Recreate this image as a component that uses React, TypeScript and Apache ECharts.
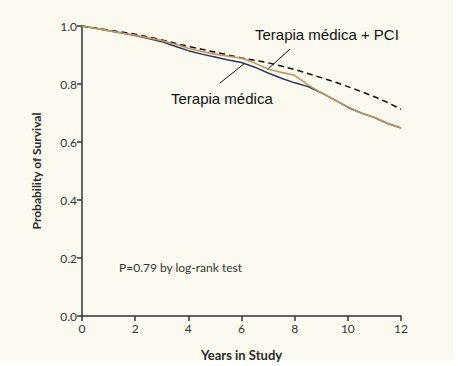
import React, { useEffect, useRef } from "react";
import * as echarts from "echarts";

const years = [0, 0.5, 1, 1.5, 2, 2.5, 3, 3.5, 4, 4.5, 5, 5.5, 6, 6.5, 7, 7.5, 8, 8.5, 9, 9.5, 10, 10.5, 11, 11.5, 12];
const expected = [1.0, 0.993, 0.986, 0.979, 0.972, 0.962, 0.952, 0.941, 0.930, 0.920, 0.910, 0.900, 0.890, 0.882, 0.873, 0.862, 0.850, 0.836, 0.822, 0.807, 0.791, 0.774, 0.756, 0.736, 0.713];
const pci = [1.0, 0.992, 0.984, 0.976, 0.968, 0.959, 0.950, 0.937, 0.923, 0.912, 0.903, 0.896, 0.889, 0.872, 0.852, 0.840, 0.830, 0.797, 0.770, 0.745, 0.722, 0.700, 0.685, 0.665, 0.648];
const medical = [1.0, 0.992, 0.984, 0.976, 0.967, 0.957, 0.946, 0.930, 0.915, 0.903, 0.893, 0.883, 0.874, 0.858, 0.838, 0.820, 0.804, 0.791, 0.770, 0.745, 0.720, 0.700, 0.684, 0.664, 0.648];

const xTicks = [0, 2, 4, 6, 8, 10, 12];
const yTicks = [0.0, 0.2, 0.4, 0.6, 0.8, 1.0];

const pair = (vals: number[]) => years.map((y, i) => [y, vals[i]]);

export default function App() {
  const ref = useRef<HTMLDivElement>(null);
  useEffect(() => {
    if (!ref.current) return;
    const chart = echarts.init(ref.current, null, { renderer: "svg" });
    const tickFont = "Lato, 'Open Sans', sans-serif";
    chart.setOption({
      animation: false,
      backgroundColor: "transparent",
      grid: { left: 82, right: 57, top: 26, bottom: 49 },
      xAxis: {
        type: "value",
        min: xTicks[0],
        max: xTicks[xTicks.length - 1],
        interval: 2,
        name: "Years in Study",
        nameLocation: "middle",
        nameGap: 32,
        nameTextStyle: { fontFamily: tickFont, fontWeight: "bold", fontSize: 13, color: "#2a2a2a" },
        axisLine: { lineStyle: { color: "#333", width: 1.5 } },
        axisTick: { show: true, length: 5, lineStyle: { color: "#333", width: 1.5 } },
        axisLabel: { fontFamily: tickFont, fontSize: 12, color: "#333", margin: 6 },
        splitLine: { show: false },
      },
      yAxis: {
        type: "value",
        min: yTicks[0],
        max: yTicks[yTicks.length - 1],
        interval: 0.2,
        name: "Probability of Survival",
        nameLocation: "middle",
        nameGap: 40,
        nameTextStyle: { fontFamily: tickFont, fontWeight: "bold", fontSize: 12, color: "#2a2a2a" },
        axisLine: { show: true, lineStyle: { color: "#333", width: 1.5 } },
        axisTick: { show: true, length: 5, lineStyle: { color: "#333", width: 1.5 } },
        axisLabel: { fontFamily: tickFont, fontSize: 12, color: "#333", margin: 5, formatter: (v: number) => v.toFixed(1) },
        splitLine: { show: false },
      },
      series: [
        {
          type: "line",
          name: "Expected",
          data: pair(expected),
          showSymbol: false,
          symbol: "none",
          lineStyle: { color: "#111", width: 1.5, type: [6, 4] },
          z: 3,
        },
        {
          type: "line",
          name: "Terapia médica",
          data: pair(medical),
          showSymbol: false,
          symbol: "none",
          lineStyle: { color: "#2b3766", width: 1.5 },
          z: 2,
        },
        {
          type: "line",
          name: "Terapia médica + PCI",
          data: pair(pci),
          showSymbol: false,
          symbol: "none",
          lineStyle: { color: "#c4965e", width: 1.6 },
          z: 4,
        },
      ],
      graphic: [
        {
          type: "text",
          left: 255,
          top: 27,
          style: { text: "Terapia médica + PCI", fontFamily: "'Liberation Sans', Arial, sans-serif", fontSize: 15, fill: "#111" },
        },
        {
          type: "text",
          left: 171,
          top: 91,
          style: { text: "Terapia médica", fontFamily: "'Liberation Sans', Arial, sans-serif", fontSize: 15, fill: "#111" },
        },
        {
          type: "line",
          shape: { x1: 290, y1: 49, x2: 267, y2: 70 },
          style: { stroke: "#111", lineWidth: 1 },
        },
        {
          type: "line",
          shape: { x1: 245, y1: 63, x2: 220, y2: 83 },
          style: { stroke: "#111", lineWidth: 1 },
        },
        {
          type: "text",
          left: 119,
          top: 261,
          style: { text: "P=0.79 by log-rank test", fontFamily: tickFont, fontSize: 12, fill: "#333" },
        },
      ],
    });
    return () => chart.dispose();
  }, []);
  return (
    <div style={{ position: "fixed", left: 0, top: 0, width: 458, height: 366, background: "#ffffff" }}>
      <div style={{ position: "absolute", left: 0, top: 0, width: 453, height: 361, background: "#fcfaf0" }} />
      <div ref={ref} style={{ position: "absolute", left: 0, top: 0, width: 458, height: 366 }} />
    </div>
  );
}
